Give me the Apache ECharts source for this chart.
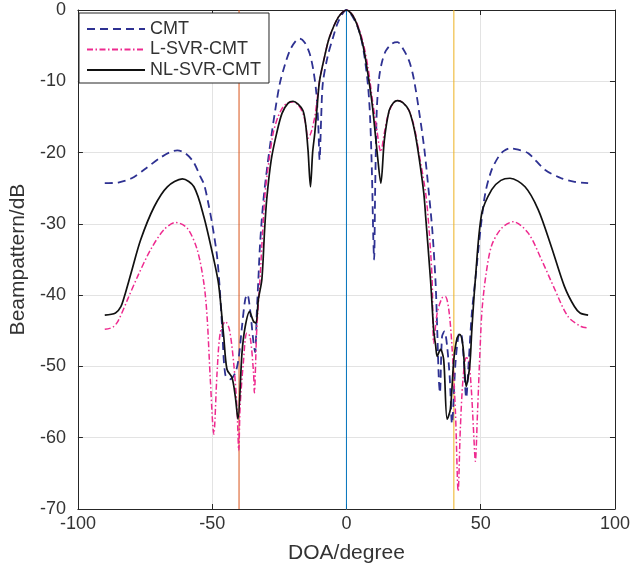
<!DOCTYPE html>
<html>
<head>
<meta charset="utf-8">
<script src="https://cdn.jsdelivr.net/npm/echarts@6/dist/echarts.min.js"></script>
<style>html,body{margin:0;padding:0;background:#fff}#c{width:633px;height:569px}</style>
</head>
<body>
<div id="c"></div>
<script>
// ---- data ----
const xTicks = [-100, -50, 0, 50, 100];
const yTicks = [-70, -60, -50, -40, -30, -20, -10, 0];
const seriesNames = ['CMT', 'L-SVR-CMT', 'NL-SVR-CMT'];
const markerDOA = [-40, 0, 40];

const doaCMT = [-90,-85,-80,-75,-70,-66,-63,-60,-57,-54.5,-53,-51.5,-50,-48.2,-47.2,-46.3,-45.1,-43.3,-41.4,-40.2,-38.9,-37.7,-36.9,-35.9,-34.6,-34,-33.4,-32.8,-32.2,-31,-29.5,-28,-26.5,-24.8,-23,-21.1,-19,-17.4,-15.5,-13.7,-12.3,-11.2,-10.5,-10,-9.4,-8.8,-7,-5.1,-3,0,3,5,6.5,8,8.8,9.5,10,10.3,10.7,11.3,12.2,13.3,14.7,17,19,21,23.3,25,27,29,30.7,32,33.2,33.8,34.4,34.8,35.6,36.5,37.5,38.5,39.3,40.6,41.8,42.6,43.6,44.6,45.5,46.7,48,50,51.7,54,56.6,58.5,60.9,64,67.7,73.9,80,85,90];
const bpCMT = [-24.3,-24.2,-23.6,-22.3,-20.9,-20.0,-19.7,-20.1,-21.3,-23.3,-24.5,-27,-30,-34.5,-39,-44.5,-51.2,-51.8,-50.9,-49,-44.4,-40.6,-39.9,-42,-46.7,-48,-42.5,-37.8,-33,-27,-22,-17.8,-14,-10.3,-7.8,-5.7,-4.4,-4.0,-4.6,-6.1,-8.5,-11.7,-16,-21,-15,-10.3,-6.5,-4.0,-1.6,0,-1.4,-3.3,-6,-10.5,-15,-23,-32,-35,-25,-14,-9.4,-7.2,-5.7,-4.7,-4.5,-5.4,-7.1,-9.5,-14.1,-19.5,-25.7,-31,-38.3,-44.8,-51.8,-53.7,-45.8,-45.1,-47.2,-51.8,-58,-49.5,-45.5,-45.3,-48.6,-54.4,-49.5,-42.5,-37.8,-30.5,-25.7,-22.5,-20.6,-19.8,-19.4,-19.6,-20.1,-22.4,-23.6,-24.1,-24.3];

const doaLSVR = [-90,-87,-85,-81.5,-77.8,-72.9,-67.9,-63.6,-59.3,-55.6,-53.1,-51.9,-50.7,-49.4,-48.2,-47,-45.1,-43.6,-42,-40.8,-40.1,-39.6,-38.4,-37.1,-35.9,-34.6,-34.3,-33.4,-32.2,-31.2,-30.3,-28.8,-27.3,-25.5,-23.6,-21.7,-19.9,-18,-16.2,-15.2,-14.3,-13.2,-11.8,-10.9,-10,-8,-6.3,-3,0,3,6,8,9.7,11.2,12.8,14,15.3,17,19,21,23.3,25.3,27,29.5,30.8,31.9,32.5,33.8,35.6,36.8,38.1,39.3,40.6,41.6,42.4,43.4,44.6,45.5,46.5,47.3,48,48.8,49.8,50.5,52,54.1,57.8,62.1,67.7,72.6,77.6,82.5,87.4,90];
const bpLSVR = [-44.8,-44.5,-43.6,-40.6,-37.4,-33.6,-30.8,-29.8,-30.6,-33.6,-38.3,-43,-51.8,-59.5,-51,-45.3,-43.7,-44.8,-49.5,-55.6,-61.8,-55.6,-49.5,-45.3,-45.8,-50.9,-53.7,-44.8,-37.8,-31,-25.7,-21,-17.3,-15,-13.6,-13.0,-12.9,-13.3,-14.5,-16,-18.0,-17.2,-15.0,-12.5,-9.9,-6.3,-3.8,-1.0,0,-1.1,-4.3,-8,-12.7,-16.5,-19.9,-17.5,-15,-13.3,-12.7,-13.0,-14.1,-16.5,-20.1,-25.7,-31,-37.8,-46.7,-42.5,-40.4,-40.2,-42,-47.2,-56.5,-67.5,-58.8,-51.8,-48.8,-49,-53.2,-58.8,-63.3,-56.5,-47.2,-42,-37,-33,-30.6,-29.7,-31.3,-35,-39.2,-43,-44.4,-44.6];

const doaNLSVR = [-90,-86,-84,-82.7,-80.2,-76.6,-71.6,-66.7,-61.1,-56.8,-53.1,-49.4,-47.6,-45.7,-44.5,-42.6,-41.4,-40.4,-38.9,-37.7,-36.1,-34.6,-33.7,-32.8,-31.5,-30.5,-29.7,-28,-26,-24,-21.8,-19.9,-18,-16.2,-15.2,-14.3,-13.4,-12.6,-11.8,-10.9,-10,-8,-6.3,-3,0,3,6,8,9.7,11.6,12.8,14.1,15.9,17.5,19,21,23.3,25.3,27,28.8,29.5,31.3,32.5,33.2,33.8,35,36.2,37.5,38.7,40,41.2,42.2,43.4,44.6,45.9,46.7,48,50.4,54.1,57.5,60.9,66.5,71.4,76.3,81.2,84.9,87,90];
const bpNLSVR = [-42.8,-42.5,-41.6,-40.2,-36.9,-32.2,-27.6,-24.8,-23.7,-24.8,-29,-35,-38.5,-45.8,-50.4,-51.6,-54.2,-57.4,-48.1,-44.4,-42.3,-43.7,-43.9,-40.6,-37.8,-31,-26.6,-21,-17.3,-14.5,-13.1,-12.8,-13.2,-14.1,-16,-19.7,-24.8,-20,-17.3,-13.5,-9.9,-6.3,-3.8,-1,0,-1.2,-4.7,-9,-13.6,-20.6,-24.3,-18.3,-14.1,-13,-12.7,-13.0,-14.1,-16.8,-20.6,-25.7,-29,-37.8,-45,-47,-48.6,-47.6,-49,-57.4,-56,-49,-46,-45.5,-47.2,-52.8,-50,-44.8,-37.8,-28.5,-25.2,-23.9,-23.6,-24.8,-28,-33.2,-38.8,-41.6,-42.5,-42.8];

// ---- styling ----
const txt = '#333333';
const font = 'Liberation Sans, Arial, Helvetica, sans-serif';
const yMin = -70, yMax = 0;
const markerColors = ['#D95319', '#0072BD', '#EDB120'];

const pairs = (xs, ys) => xs.map((x, i) => [x, ys[i]]);

const series = [];
markerDOA.forEach((d, i) => {
  series.push({
    type: 'line', name: 'm' + i, silent: true, symbol: 'none',
    data: [[d, yMin], [d, yMax]],
    lineStyle: { color: markerColors[i], width: 1 }, z: 1
  });
});
series.push({
  name: seriesNames[0], type: 'line', symbol: 'none', smooth: 0.3,
  data: pairs(doaCMT, bpCMT),
  lineStyle: { color: '#2E3192', width: 1.8, type: [8, 5] }, itemStyle: { color: '#2E3192' }, z: 3
});
series.push({
  name: seriesNames[1], type: 'line', symbol: 'none', smooth: 0.3,
  data: pairs(doaLSVR, bpLSVR),
  lineStyle: { color: '#EE2A8F', width: 1.5, type: [6, 2.5, 1.5, 2.5] }, itemStyle: { color: '#EE2A8F' }, z: 4
});
series.push({
  name: seriesNames[2], type: 'line', symbol: 'none', smooth: 0.3,
  data: pairs(doaNLSVR, bpNLSVR),
  lineStyle: { color: '#111111', width: 1.7, type: 'solid' }, itemStyle: { color: '#111111' }, z: 5
});

const axLine = { show: true, onZero: false, lineStyle: { color: '#262626', width: 1 } };
const axTick = { show: true, inside: true, length: 5, lineStyle: { color: '#262626' } };

const chart = echarts.init(document.getElementById('c'), null, { renderer: 'canvas' });
chart.setOption({
  animation: false,
  backgroundColor: '#ffffff',
  textStyle: { fontFamily: font },
  grid: { left: 77, right: 15, top: 10, bottom: 59, show: false, containLabel: false },
  legend: {
    show: true,
    data: seriesNames,
    orient: 'vertical', left: 79, top: 13,
    padding: [6, 8, 3, 7],
    itemWidth: 58, itemHeight: 14, itemGap: 0.5,
    backgroundColor: '#ffffff', borderColor: '#262626', borderWidth: 1,
    textStyle: { fontSize: 18, color: txt, lineHeight: 20, fontFamily: font },
    itemStyle: { opacity: 0 },
    selectedMode: false,
    z: 10
  },
  xAxis: [{
    type: 'value', min: -100, max: 100, interval: 50, position: 'bottom',
    name: 'DOA/degree', nameLocation: 'middle', nameGap: 34,
    nameTextStyle: { fontSize: 21, color: txt, fontFamily: font },
    axisLine: axLine, axisTick: axTick,
    axisLabel: { fontSize: 18, color: txt, margin: 6, fontFamily: font },
    splitLine: { show: true, lineStyle: { color: '#e3e3e3', width: 1 } }
  }, {
    type: 'value', min: -100, max: 100, interval: 50, position: 'top',
    axisLine: axLine, axisTick: axTick,
    axisLabel: { show: false }, splitLine: { show: false }
  }],
  yAxis: [{
    type: 'value', min: yMin, max: yMax, interval: 10, position: 'left',
    name: 'Beampattern/dB', nameLocation: 'middle', nameGap: 43,
    nameTextStyle: { fontSize: 21, color: txt, fontFamily: font },
    axisLine: axLine, axisTick: axTick,
    axisLabel: { fontSize: 18, color: txt, margin: 12, fontFamily: font },
    splitLine: { show: true, lineStyle: { color: '#e3e3e3', width: 1 } }
  }, {
    type: 'value', min: yMin, max: yMax, interval: 10, position: 'right',
    axisLine: axLine, axisTick: axTick,
    axisLabel: { show: false }, splitLine: { show: false }
  }],
  series: series
});
</script>
</body>
</html>
